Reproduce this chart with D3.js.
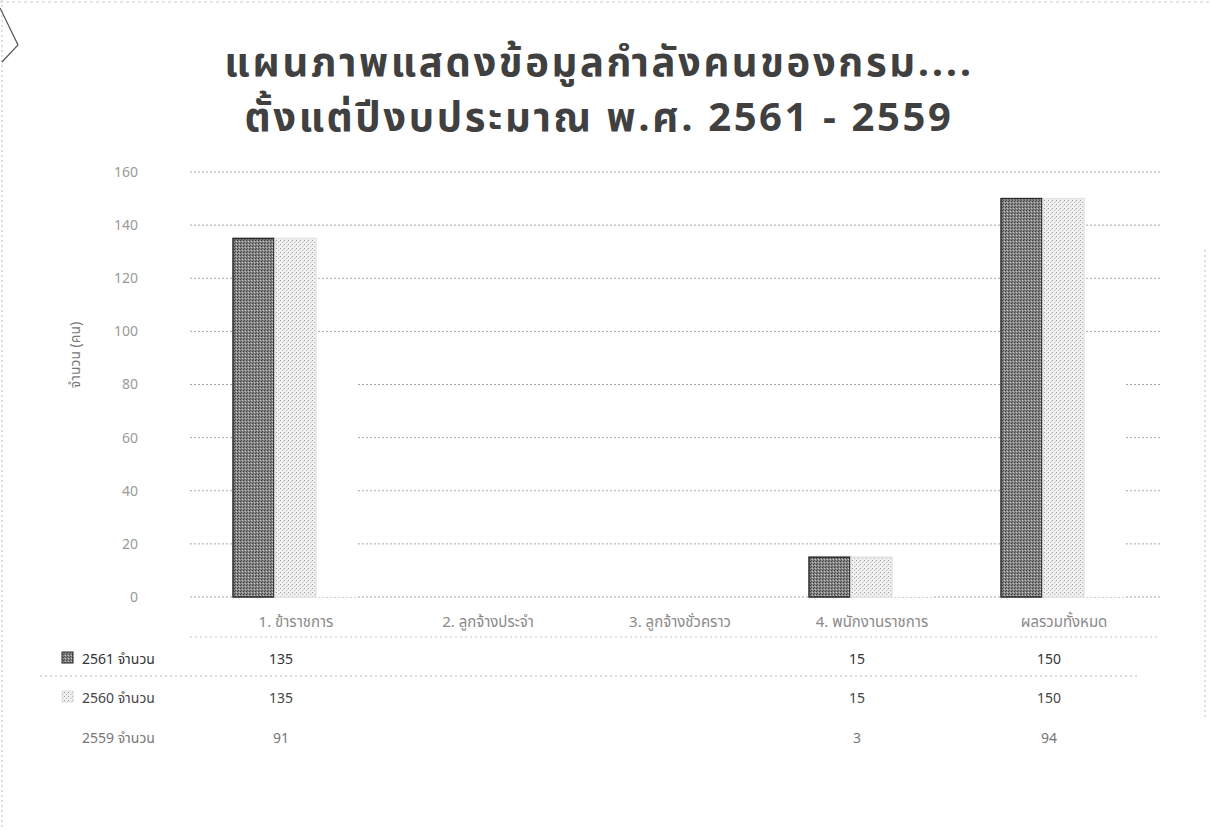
<!DOCTYPE html>
<html><head><meta charset="utf-8">
<script src="https://cdn.jsdelivr.net/npm/d3@7"></script>
<style>
body{margin:0;background:#fff;}
svg{display:block;}
text{font-family:Tahoma,"Noto Sans Thai","Noto Sans","DejaVu Sans",sans-serif;}
</style></head>
<body><svg id="c" width="1210" height="830"></svg>
<script>
const titleLines = ["แผนภาพแสดงข้อมูลกำลังคนของกรม....", "ตั้งแต่ปีงบประมาณ พ.ศ. 2561 - 2559"];
const categories = ["1. ข้าราชการ", "2. ลูกจ้างประจำ", "3. ลูกจ้างชั่วคราว", "4. พนักงานราชการ", "ผลรวมทั้งหมด"];
const seriesNames = ["2561 จำนวน", "2560 จำนวน", "2559 จำนวน"];
const values2561 = [135, null, null, 15, 150];
const values2560 = [135, null, null, 15, 150];
const values2559 = [91, null, null, 3, 94];
const yTicks = [0, 20, 40, 60, 80, 100, 120, 140, 160];
const yLabel = "จำนวน (คน)";

const series = [values2561, values2560, values2559];
const svg = d3.select("#c");
const W = 1210, H = 830;
const mLeft = 200, mRight = 1160, mTop = 172, mBottom = 597;

const defs = svg.append("defs");
const p1 = defs.append("pattern").attr("id","pDark").attr("width",3).attr("height",3).attr("patternUnits","userSpaceOnUse");
p1.append("rect").attr("width",3).attr("height",3).attr("fill","#858585");
p1.append("rect").attr("width",1).attr("height",1).attr("fill","#3a3a3a");
p1.append("rect").attr("x",2).attr("y",1).attr("width",1).attr("height",1).attr("fill","#c8c8c8");
p1.append("rect").attr("x",1).attr("y",2).attr("width",1).attr("height",1).attr("fill","#555");
const p2 = defs.append("pattern").attr("id","pLight").attr("width",4).attr("height",4).attr("patternUnits","userSpaceOnUse");
p2.append("rect").attr("width",4).attr("height",4).attr("fill","#f0f0f0");
p2.append("rect").attr("x",0).attr("y",0).attr("width",1).attr("height",1).attr("fill","#9a9a9a");
p2.append("rect").attr("x",2).attr("y",2).attr("width",1).attr("height",1).attr("fill","#b5b5b5");
p2.append("rect").attr("x",3).attr("y",1).attr("width",1).attr("height",1).attr("fill","#d8d8d8");
const fills = ["url(#pDark)", "url(#pLight)", "#ffffff"];
const strokes = ["#2a2a2a", "#e4e4e4", "none"];

// page frame (scan edges)
svg.append("line").attr("x1",2).attr("x2",2).attr("y1",0).attr("y2",H).attr("stroke","#bbb").attr("stroke-dasharray","2,3");
svg.append("line").attr("x1",1205).attr("x2",1205).attr("y1",250).attr("y2",720).attr("stroke","#bbb").attr("stroke-dasharray","2,3");
svg.append("line").attr("x1",0).attr("x2",W).attr("y1",2).attr("y2",2).attr("stroke","#ccc").attr("stroke-dasharray","3,3");
svg.append("path").attr("d","M0,8 L18,45 L2,62").attr("fill","none").attr("stroke","#555").attr("stroke-width",1.2);

// title
const title = svg.append("g");
titleLines.forEach((t,i)=>{
  title.append("text").attr("x",599).attr("y",76 + i*55).attr("text-anchor","middle")
    .attr("font-size",40).attr("font-weight","bold").attr("letter-spacing",2.6)
    .attr("fill","#404040").text(t);
});

const x = d3.scaleBand().domain(categories).range([mLeft, mRight]);
const xs = d3.scaleBand().domain(d3.range(3)).range([0, 126]);
const y = d3.scaleLinear().domain([0,160]).range([mBottom, mTop]);

svg.append("g").selectAll("line").data(yTicks).join("line")
  .attr("x1",190).attr("x2",mRight).attr("y1",d=>y(d)).attr("y2",d=>y(d))
  .attr("stroke","#a8a8a8").attr("stroke-width",1).attr("stroke-dasharray","2,2");

const ya = svg.append("g").attr("transform",`translate(138,0)`)
  .call(d3.axisLeft(y).tickValues(yTicks).tickSize(0).tickPadding(0));
ya.select(".domain").remove();
ya.selectAll("text").attr("font-size",14).attr("fill","#9a9a9a")
  .attr("font-family",'"Liberation Serif",serif');

svg.append("text").attr("transform","translate(80,355) rotate(-90)").attr("text-anchor","middle")
  .attr("font-size",14).attr("fill","#777").text(yLabel);

series.forEach((vals,si)=>{
  svg.append("g").selectAll("rect").data(categories.map((c,i)=>({c, v: vals[i]})).filter(d=>d.v!=null))
    .join("rect")
    .attr("x",d=>x(d.c) + x.bandwidth()/2 - 63 + xs(si))
    .attr("width",xs.bandwidth()-1)
    .attr("y",d=>y(d.v))
    .attr("height",d=>y(0)-y(d.v))
    .attr("fill",fills[si]).attr("stroke",strokes[si]).attr("stroke-width",1.5);
});

const xa = svg.append("g").attr("transform",`translate(0,608)`)
  .call(d3.axisBottom(x).tickSize(0).tickPadding(8));
xa.select(".domain").remove();
xa.selectAll("text").attr("font-size",15).attr("fill","#8a8a8a");

svg.append("line").attr("x1",190).attr("x2",mRight).attr("y1",637).attr("y2",637)
  .attr("stroke","#c8c8c8").attr("stroke-dasharray","2,3");
svg.append("line").attr("x1",40).attr("x2",mRight-20).attr("y1",676).attr("y2",676)
  .attr("stroke","#b8b8b8").attr("stroke-dasharray","2,3");

const rowY = [664, 703, 743];
const rowColors = ["#333", "#444", "#777"];
seriesNames.forEach((name,si)=>{
  const g = svg.append("g");
  g.append("rect").attr("x",62).attr("y",rowY[si]-12).attr("width",11).attr("height",11)
    .attr("fill",fills[si]).attr("stroke", si===0?"#222":(si===1?"#ddd":"none"));
  g.append("text").attr("x",82).attr("y",rowY[si]).attr("font-size",14)
    .attr("fill",rowColors[si]).attr("font-family",'"Liberation Serif",serif').text(name);
  g.selectAll("text.v").data(categories.map((c,i)=>({c, v: series[si][i]})).filter(d=>d.v!=null))
    .join("text").attr("class","v")
    .attr("x",d=>x(d.c)+x.bandwidth()/2 - 15).attr("y",rowY[si])
    .attr("text-anchor","middle").attr("font-size",14).attr("fill",rowColors[si])
    .attr("font-family",'"Liberation Serif",serif')
    .text(d=>d.v);
});
</script></body></html>
